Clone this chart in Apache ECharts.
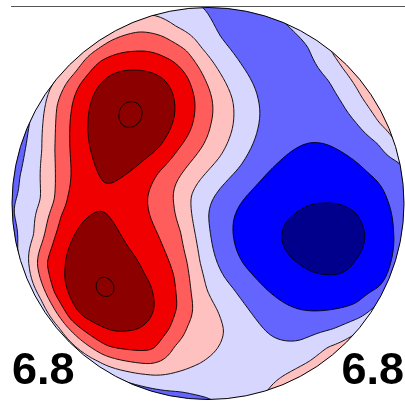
<!DOCTYPE html>
<html>
<head>
<meta charset="utf-8">
<script src="https://cdn.jsdelivr.net/npm/echarts@6/dist/echarts.min.js"></script>
<style>
  html, body { margin: 0; padding: 0; background: #ffffff; }
  #chart { width: 405px; height: 402px; }
</style>
</head>
<body>
<div id="chart"></div>
<script>
// ---- contour levels (µV) and band colours, lowest band first ----
const levels = [-5.1, -3.4, -1.7, 0, 1.7, 3.4, 5.1, 6.8];
const bandColors = ['#00008c', '#0000ff', '#6464ff', '#d6d6ff', '#ffc0c0', '#ff5c5c', '#f00000', '#8c0000', '#8c0000'];
const scaleLabel = '6.8';
const headRadius = 98; // mm

// ---- scalp readings, head coordinates in mm (x to the right, y towards the nose) ----
// points read along each isoline carry that isoline's value
const iso_p68 = [[-44, 45.25], [-38.5, 50.75], [-33.5, 45.25], [-38.5, 38.75],
  [-54, -41], [-50.5, -37.5], [-47, -41.25], [-50.5, -44.75]];

const iso_p51 = [
  [-36.5, 66.75], [-24, 63.75], [-17, 51.75], [-18, 39.25], [-24, 27.75], [-36.5, 17.75],
  [-49, 10.25], [-56, 17.75], [-60, 34.25], [-58, 51.75], [-50, 63.25],
  [-55.5, -5.25], [-49, -6.75], [-40.5, -21.75], [-32.5, -35.25], [-27.5, -46.75], [-27, -53.25],
  [-32.5, -60.75], [-40.5, -63.25], [-54, -60.75], [-64, -55.25], [-70, -43.25], [-70.5, -31.75],
  [-68, -18.25], [-62.5, -9.25]];

const iso_p34 = [
  [-36.5, 75.75], [-54, 71.75], [-64, 60.25], [-68, 46.75], [-69, 26.75], [-70.5, 4.25],
  [-74, -5.75], [-77, -17.25], [-81.3, -29.6], [-77.5, -44.75], [-69.3, -58.15], [-50.2, -71.7],
  [-26.85, -73.75], [-19, -63.25], [-15, -51.75], [-16.5, -36.75], [-22.5, -21.75], [-29, -6.75],
  [-30.5, 3.25], [-25.5, 15.25], [-15.5, 26.75], [-8, 38.25], [-6.5, 51.75], [-10, 63.25], [-22.5, 73.25]];

const iso_p17 = [
  [-34, 86.25], [-49, 81.25], [-60.5, 73.25], [-70, 61.75], [-76, 49.25], [-77, 26.75],
  [-76.5, 1.75], [-82, -15.75], [-85.5, -31.1], [-80.55, -46.5], [-72, -60.4], [-53.05, -75.8],
  [-29.25, -80.35], [-18, -70.75], [-11, -60.75], [-8.5, -45.75], [-10, -29.25], [-13, -14.25],
  [-16.5, -0.75], [-12.5, 15.75], [-4, 26.75], [1, 39.25], [2, 51.75], [-1.5, 61.75], [-10, 76.75], [-21.5, 83.75]];

const iso_0 = [
  [-27.5, 94.25], [-16.5, 87.75], [-4, 77.75], [6, 65.25], [12.5, 51.75], [12.5, 38.25],
  [6, 23.25], [-4, 11.75], [-9, 3.25], [-7, -13.25], [-4.5, -29.25], [-1, -43.25], [5, -53.25],
  [8.5, -63.25], [3.5, -74.25], [-4, -80.25], [-11.5, -83.25], [-30.95, -85.05], [-54.8, -78.25],
  [-73.55, -61.7], [-82.7, -47.75], [-88.8, -32.3], [-86, -15.75], [-83, 1.75], [-82.5, 26.75],
  [-81, 49.25], [-76.5, 61.75],
  [60, 77.75], [67.2, 67.2], [76.65, 52.7], [85.2, 39.75], [94, 28],
  [29.5, -94.25], [73.75, -64.55]];

const iso_m17 = [
  [-1.5, 97.75], [6, 83.25], [17.5, 68.25], [25, 51.75], [25, 38.25], [16, 18.25], [4.5, 5.25],
  [0, -5.75], [2, -20.75], [12.5, -41.75], [26, -60.25], [37.5, -68.25], [46, -68.75],
  [62.5, -63.25], [76, -57.25], [85, -48.25],
  [38.5, 89.75], [51, 78.25], [61, 61.75], [67, 50.75], [74.5, 40.25], [86, 30.25], [96, 21.75],
  [-89, 40.75], [-91.5, 26.75], [-93, 16.75], [-94.5, 6.75], [-97, -0.75], [-97.75, -4.25],
  [-41.5, -88.75], [-29, -92.25], [-19, -93.75], [-6.5, -95.75], [2.5, -98.25]];

const iso_m34 = [
  [54.5, 30.25], [67.5, 25.25], [79.5, 15.25], [89.5, 1.75], [92.5, -13.25], [91, -30.25],
  [86, -43.25], [74.5, -50.25], [59.5, -53.25], [42.5, -51.75], [29.5, -43.25], [17.5, -30.25],
  [12.5, -13.25], [17.5, 1.75], [29.5, 15.25], [44.5, 27.75]];

const iso_m51 = [
  [59.5, -0.25], [74.5, -5.25], [79, -16.25], [72.5, -28.25], [59.5, -35.25], [46, -30.25],
  [37, -16.25], [44.5, -4.75]];

// single readings: the two maxima, the minimum, band interiors and rim electrodes [x, y, µV]
const spotReadings = [
  [-39, 44.75, 7.0], [-50.5, -41, 6.92], [58.5, -17.25, -5.8],
  [-56.5, 78.75, 1.1], [-69, 67.75, 0.6], [-41.5, 88.25, 0.9], [-31.5, 91.25, 0.6],
  [72.85, 72.85, 1.3], [84.9, 58.35, 1.5], [93.35, 43.55, 1.3],
  [77.1, 77.1, 2.3], [89.8, 61.7, 2.5], [98.8, 46.1, 2.3],
  [60.4, -72, 0.05], [51.2, -78.85, 0.05], [41.2, -84.5, 0.05],
  [61.7, -73.55, 0.35], [52.3, -80.5, 0.4], [42.1, -86.3, 0.35],
  [43.55, -93.35, 1.4], [56.1, -86.4, 1.5], [68.9, -76.55, 1.4],
  [46.1, -98.8, 2.4], [59.4, -91.4, 2.5], [72.9, -81, 2.4],
  [-95.5, 14.25, -1.95], [-14, -95.75, -1.95],
  [27, 79.25, -2.5], [46, 51.75, -2.6], [16, -85.75, -0.9]];

// smoothing weight for the traced isoline points (spot readings are matched exactly)
const smoothing = 60;

// ---- collect all readings ----
const sx = [], sy = [], sv = [], sl = [];
[[iso_m51, -5.1], [iso_m34, -3.4], [iso_m17, -1.7], [iso_0, 0],
 [iso_p17, 1.7], [iso_p34, 3.4], [iso_p51, 5.1], [iso_p68, 6.8]].forEach(([pts, v]) => {
  pts.forEach(p => { sx.push(p[0]); sy.push(p[1]); sv.push(v); sl.push(smoothing); });
});
spotReadings.forEach(p => { sx.push(p[0]); sy.push(p[1]); sv.push(p[2]); sl.push(0); });

// ---- thin-plate spline surface through the readings ----
function fitThinPlate(xs, ys, vs, lambdas) {
  const n = xs.length, m = n + 3;
  const U = r2 => (r2 > 1e-12 ? 0.5 * r2 * Math.log(r2) : 0);
  const A = [];
  for (let i = 0; i < m; i++) A.push(new Float64Array(m + 1));
  for (let i = 0; i < n; i++) {
    for (let j = 0; j < n; j++) {
      const dx = xs[i] - xs[j], dy = ys[i] - ys[j];
      A[i][j] = U(dx * dx + dy * dy);
    }
    A[i][i] += lambdas[i];
    A[i][n] = 1; A[i][n + 1] = xs[i]; A[i][n + 2] = ys[i];
    A[n][i] = 1; A[n + 1][i] = xs[i]; A[n + 2][i] = ys[i];
    A[i][m] = vs[i];
  }
  for (let c = 0; c < m; c++) {
    let p = c;
    for (let r = c + 1; r < m; r++) if (Math.abs(A[r][c]) > Math.abs(A[p][c])) p = r;
    const tmp = A[c]; A[c] = A[p]; A[p] = tmp;
    const d = A[c][c];
    for (let r = c + 1; r < m; r++) {
      const f = A[r][c] / d;
      if (f !== 0) for (let k = c; k <= m; k++) A[r][k] -= f * A[c][k];
    }
  }
  const w = new Float64Array(m);
  for (let r = m - 1; r >= 0; r--) {
    let s = A[r][m];
    for (let k = r + 1; k < m; k++) s -= A[r][k] * w[k];
    w[r] = s / A[r][r];
  }
  return (x, y) => {
    let s = w[n] + w[n + 1] * x + w[n + 2] * y;
    for (let i = 0; i < n; i++) {
      const dx = x - xs[i], dy = y - ys[i];
      s += w[i] * U(dx * dx + dy * dy);
    }
    return s;
  };
}
const surface = fitThinPlate(sx, sy, sv, sl);

// sample the surface on a regular grid (row 0 = front of the head)
const N = 161, EXT = 100, STEP = (2 * EXT) / (N - 1);
const field = new Float64Array(N * N);
for (let j = 0; j < N; j++) {
  for (let i = 0; i < N; i++) field[j * N + i] = surface(-EXT + i * STEP, EXT - j * STEP);
}
const negField = field.map(v => -v);

// ---- marching squares with ring stitching ----
const CASES = [
  [], [[[1.0, 1.5], [0.5, 1.0]]], [[[1.5, 1.0], [1.0, 1.5]]], [[[1.5, 1.0], [0.5, 1.0]]],
  [[[1.0, 0.5], [1.5, 1.0]]], [[[1.0, 1.5], [0.5, 1.0]], [[1.0, 0.5], [1.5, 1.0]]],
  [[[1.0, 0.5], [1.0, 1.5]]], [[[1.0, 0.5], [0.5, 1.0]]], [[[0.5, 1.0], [1.0, 0.5]]],
  [[[1.0, 1.5], [1.0, 0.5]]], [[[0.5, 1.0], [1.0, 0.5]], [[1.5, 1.0], [1.0, 1.5]]],
  [[[1.5, 1.0], [1.0, 0.5]]], [[[0.5, 1.0], [1.5, 1.0]]], [[[1.0, 1.5], [1.5, 1.0]]],
  [[[0.5, 1.0], [1.0, 1.5]]], []];

function isoRings(values, dx, dy, level) {
  const rings = [];
  const byStart = new Map(), byEnd = new Map();
  const key = p => p[0] * 2 + p[1] * (dx + 1) * 4;
  let x, y, t0, t1, t2, t3;
  const inside = k => (values[k] >= level ? 1 : 0);
  function stitch(line) {
    const start = [line[0][0] + x, line[0][1] + y];
    const end = [line[1][0] + x, line[1][1] + y];
    const sk = key(start), ek = key(end);
    let f, g;
    if ((f = byEnd.get(sk))) {
      if ((g = byStart.get(ek))) {
        byEnd.delete(f.end); byStart.delete(g.start);
        if (f === g) { f.ring.push(end); rings.push(f.ring); }
        else {
          const h = { start: f.start, end: g.end, ring: f.ring.concat(g.ring) };
          byStart.set(h.start, h); byEnd.set(h.end, h);
        }
      } else {
        byEnd.delete(f.end); f.ring.push(end); f.end = ek; byEnd.set(ek, f);
      }
    } else if ((f = byStart.get(ek))) {
      byStart.delete(f.start); f.ring.unshift(start); f.start = sk; byStart.set(sk, f);
    } else {
      const h = { start: sk, end: ek, ring: [start, end] };
      byStart.set(sk, h); byEnd.set(ek, h);
    }
  }
  const run = c => CASES[c].forEach(stitch);
  x = y = -1;
  t1 = inside(0);
  run(t1 << 1);
  while (++x < dx - 1) { t0 = t1; t1 = inside(x + 1); run(t0 | (t1 << 1)); }
  run(t1);
  while (++y < dy - 1) {
    x = -1;
    t1 = inside(y * dx + dx);
    t2 = inside(y * dx);
    run((t1 << 1) | (t2 << 2));
    while (++x < dx - 1) {
      t0 = t1; t1 = inside(y * dx + dx + x + 1);
      t3 = t2; t2 = inside(y * dx + x + 1);
      run(t0 | (t1 << 1) | (t2 << 2) | (t3 << 3));
    }
    run(t1 | (t2 << 3));
  }
  x = -1;
  t2 = inside(y * dx);
  run(t2 << 2);
  while (++x < dx - 1) { t3 = t2; t2 = inside(y * dx + x + 1); run((t2 << 2) | (t3 << 3)); }
  run(t2 << 3);

  // move the edge midpoints to the linearly interpolated crossing
  rings.forEach(ring => ring.forEach(p => {
    const px = p[0], py = p[1], xt = px | 0, yt = py | 0;
    if (px > 0 && px < dx && xt === px) {
      const v0 = values[yt * dx + xt - 1], v1 = values[yt * dx + xt];
      p[0] = px + (level - v0) / (v1 - v0) - 0.5;
    }
    if (py > 0 && py < dy && yt === py) {
      const v0 = values[(yt - 1) * dx + xt], v1 = values[yt * dx + xt];
      p[1] = py + (level - v0) / (v1 - v0) - 0.5;
    }
  }));
  // grid units -> head mm
  return rings.map(r => r.map(p => [-EXT + (p[0] - 0.5) * STEP, EXT - (p[1] - 0.5) * STEP]));
}

// painter's order: the band around zero first, then nested regions towards each extreme
const layers = [{ rings: null, color: bandColors[3] }];
levels.forEach((t, k) => {
  if (t >= 0) layers.push({ rings: isoRings(field, N, N, t), color: bandColors[k + 1] });
});
levels.slice().reverse().forEach(t => {
  const k = levels.indexOf(t);
  if (t < 0) layers.push({ rings: isoRings(negField, N, N, -t), color: bandColors[k] });
});

const fmt = v => v.toFixed(2);

const chart = echarts.init(document.getElementById('chart'), null, { renderer: 'canvas' });
chart.setOption({
  animation: false,
  backgroundColor: '#ffffff',
  grid: { left: 12, top: 7.5, width: 392, height: 392 },
  xAxis: { type: 'value', min: -headRadius, max: headRadius, show: false },
  yAxis: { type: 'value', min: -headRadius, max: headRadius, show: false },
  series: [
    {
      type: 'custom',
      coordinateSystem: 'cartesian2d',
      silent: true,
      clip: false,
      z: 1,
      data: layers.map((_, i) => [i, 0]),
      renderItem(params, api) {
        const layer = layers[params.dataIndex];
        let d = '';
        if (layer.rings === null) {
          const a = api.coord([-EXT, EXT]), b = api.coord([EXT, -EXT]);
          d = 'M' + fmt(a[0]) + ' ' + fmt(a[1]) + 'H' + fmt(b[0]) + 'V' + fmt(b[1]) + 'H' + fmt(a[0]) + 'Z';
        } else {
          layer.rings.forEach(ring => {
            ring.forEach((p, i) => {
              const c = api.coord(p);
              d += (i === 0 ? 'M' : 'L') + fmt(c[0]) + ' ' + fmt(c[1]);
            });
            d += 'Z';
          });
        }
        if (!d) return null;
        return {
          type: 'path',
          shape: { pathData: d },
          style: {
            fill: layer.color,
            stroke: layer.rings === null ? null : '#000000',
            lineWidth: 0.9
          }
        };
      }
    },
    {
      // white surround outside the scalp and the scalp outline
      type: 'custom',
      coordinateSystem: 'cartesian2d',
      silent: true,
      clip: false,
      z: 5,
      data: [[0, 0]],
      renderItem(params, api) {
        const c = api.coord([0, 0]);
        const r = api.size([headRadius, headRadius])[0];
        const W = api.getWidth(), H = api.getHeight();
        let d = 'M-20 -20H' + (W + 20) + 'V' + (H + 20) + 'H-20Z';
        for (let k = 0; k <= 360; k++) {
          const a = (k * Math.PI) / 180;
          d += (k === 0 ? 'M' : 'L') + fmt(c[0] + r * Math.cos(a)) + ' ' + fmt(c[1] - r * Math.sin(a));
        }
        d += 'Z';
        return {
          type: 'group',
          children: [
            { type: 'path', shape: { pathData: d }, style: { fill: '#ffffff' } },
            { type: 'circle', shape: { cx: c[0], cy: c[1], r: r }, style: { fill: null, stroke: '#000000', lineWidth: 1 } }
          ]
        };
      }
    }
  ],
  graphic: [
    { type: 'line', z: 10, shape: { x1: 11, y1: 6.5, x2: 405, y2: 6.5 }, style: { stroke: '#555555', lineWidth: 1.2 } },
    {
      type: 'text', z: 10, x: 12, y: 372,
      style: { text: scaleLabel, font: 'bold 45px "Liberation Sans", Arial, sans-serif', fill: '#000000',
        textAlign: 'left', textVerticalAlign: 'middle', align: 'left', verticalAlign: 'middle' }
    },
    {
      type: 'text', z: 10, x: 404, y: 372,
      style: { text: scaleLabel, font: 'bold 45px "Liberation Sans", Arial, sans-serif', fill: '#000000',
        textAlign: 'right', textVerticalAlign: 'middle', align: 'right', verticalAlign: 'middle' }
    }
  ]
});
</script>
</body>
</html>
